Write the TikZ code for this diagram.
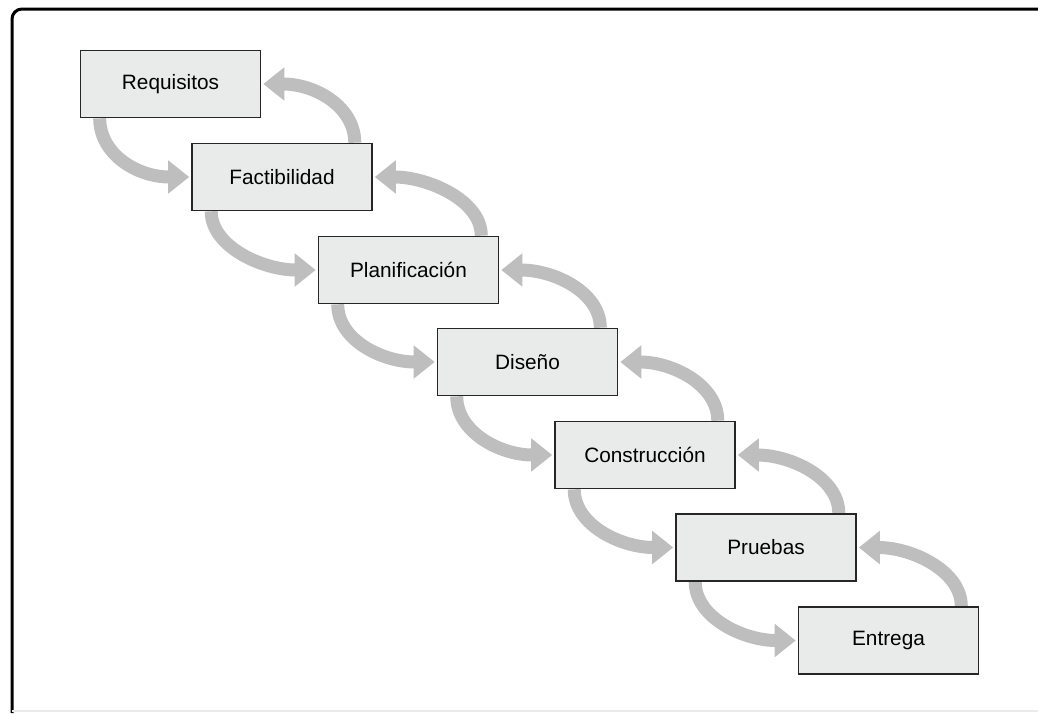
\documentclass[tikz,border=0pt]{standalone}
\usepackage{fontspec}
\setmainfont{Liberation Sans}
\usetikzlibrary{arrows.meta, positioning, backgrounds}

\definecolor{boxfill}{HTML}{E9EBEB}
\definecolor{boxline}{HTML}{262626}
\definecolor{arrowgray}{HTML}{BEBEBE}

\begin{document}
\begin{tikzpicture}[x=0.5pt, y=-0.5pt, >={Triangle[width=16pt,length=10.5pt]},
    box/.style={draw=boxline, fill=boxfill, line width=0.8pt, minimum width=90pt,
      minimum height=33.5pt, inner sep=0pt, font=\fontsize{10.4}{12}\selectfont},
    flow/.style={->, draw=arrowgray, line width=6.5pt}]
  \useasboundingbox (0,0) rectangle (1038,713);

  % frame
  \draw[line width=1.5pt, rounded corners=5pt] (12,713) -- (12,9) -- (1038,9);
  \draw[black!8, line width=0.8pt] (12,711) -- (1038,711);

  \node[box] (Req) at (170.5,84) {Requisitos};
  \node[box] (Fac) at (282,177) {Factibilidad};
  \node[box] (Pla) at (408.5,270) {Planificación};
  \node[box] (Dis) at (527.5,362) {Diseño};
  \node[box] (Con) at (645,455) {Construcción};
  \node[box] (Pru) at (766,547.5) {Pruebas};
  \node[box] (Ent) at (888.5,640.5) {Entrega};

  \begin{scope}[on background layer]
  % forward arrows
  \draw[flow] ([xshift=10pt]Req.south west) .. controls +(0,36) and +(-52,0) .. ([xshift=-1pt]Fac.west);
  \draw[flow] ([xshift=10pt]Fac.south west) .. controls +(0,36) and +(-52,0) .. ([xshift=-1pt]Pla.west);
  \draw[flow] ([xshift=10pt]Pla.south west) .. controls +(0,36) and +(-52,0) .. ([xshift=-1pt]Dis.west);
  \draw[flow] ([xshift=10pt]Dis.south west) .. controls +(0,36) and +(-52,0) .. ([xshift=-1pt]Con.west);
  \draw[flow] ([xshift=10pt]Con.south west) .. controls +(0,36) and +(-52,0) .. ([xshift=-1pt]Pru.west);
  \draw[flow] ([xshift=10pt]Pru.south west) .. controls +(0,36) and +(-52,0) .. ([xshift=-1pt]Ent.west);

  % backward arrows
  \draw[flow] ([xshift=-9pt]Fac.north east) .. controls +(0,-36) and +(52,0) .. ([xshift=1pt]Req.east);
  \draw[flow] ([xshift=-9pt]Pla.north east) .. controls +(0,-36) and +(52,0) .. ([xshift=1pt]Fac.east);
  \draw[flow] ([xshift=-9pt]Dis.north east) .. controls +(0,-36) and +(52,0) .. ([xshift=1pt]Pla.east);
  \draw[flow] ([xshift=-9pt]Con.north east) .. controls +(0,-36) and +(52,0) .. ([xshift=1pt]Dis.east);
  \draw[flow] ([xshift=-9pt]Pru.north east) .. controls +(0,-36) and +(52,0) .. ([xshift=1pt]Con.east);
  \draw[flow] ([xshift=-9pt]Ent.north east) .. controls +(0,-36) and +(52,0) .. ([xshift=1pt]Pru.east);
  \end{scope}
\end{tikzpicture}
\end{document}
